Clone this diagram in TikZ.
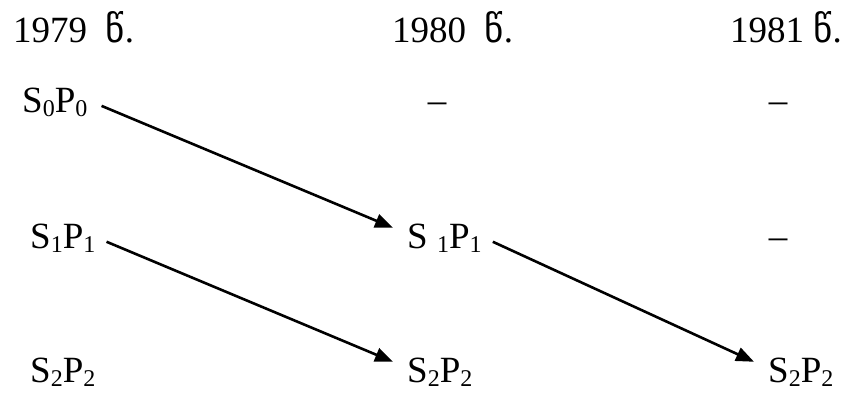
\documentclass[tikz,border=0pt]{standalone}
\usepackage{fontspec}
\setmainfont{Liberation Serif}
\newfontfamily\geofont{DejaVu Sans}
\usepackage{tikz}
\usetikzlibrary{arrows.meta,positioning}

\newcommand{\ix}[1]{\raisebox{-4pt}{\fontsize{24}{26}\selectfont #1}}

\tikzset{
  lbl/.style={anchor=base west, inner sep=0pt, font=\fontsize{37}{42}\selectfont},
  gap/.style={anchor=base, inner sep=0pt, font=\fontsize{37}{42}\selectfont},
  flow/.style={line width=2.6pt, -{Triangle[length=18pt,width=14pt]}}
}

\begin{document}
\begin{tikzpicture}[x=1pt,y=-1pt]
  \useasboundingbox (0,0) rectangle (843,394);
  \node[lbl] (y79) at (13,42) {1979\ \ {\geofont წ}.};
  \node[lbl] (y80) at (392,42) {1980\ \ {\geofont წ}.};
  \node[lbl] (y81) at (730,42) {1981\ {\geofont წ}.};
  \node[lbl] (a0) at (22,112) {S\ix{0}P\ix{0}};
  \node[lbl] (a1) at (30,248) {S\ix{1}P\ix{1}};
  \node[lbl] (a2) at (30,382) {S\ix{2}P\ix{2}};
  \node[gap] (b0) at (437,112) {–};
  \node[lbl] (b1) at (407,248) {S \ix{1}P\ix{1}};
  \node[lbl] (b2) at (407,382) {S\ix{2}P\ix{2}};
  \node[gap] (c0) at (778,112) {–};
  \node[gap] (c1) at (778,248) {–};
  \node[lbl] (c2) at (768,382) {S\ix{2}P\ix{2}};
  \draw[flow] ([xshift=14pt,yshift=-4pt]a0.east) -- ([xshift=-14pt,yshift=10pt]b1.west);
  \draw[flow] ([xshift=11pt,yshift=-4pt]a1.east) -- ([xshift=-14pt,yshift=10pt]b2.west);
  \draw[flow] ([xshift=11pt,yshift=-4pt]b1.east) -- ([xshift=-14pt,yshift=10pt]c2.west);
\end{tikzpicture}
\end{document}
